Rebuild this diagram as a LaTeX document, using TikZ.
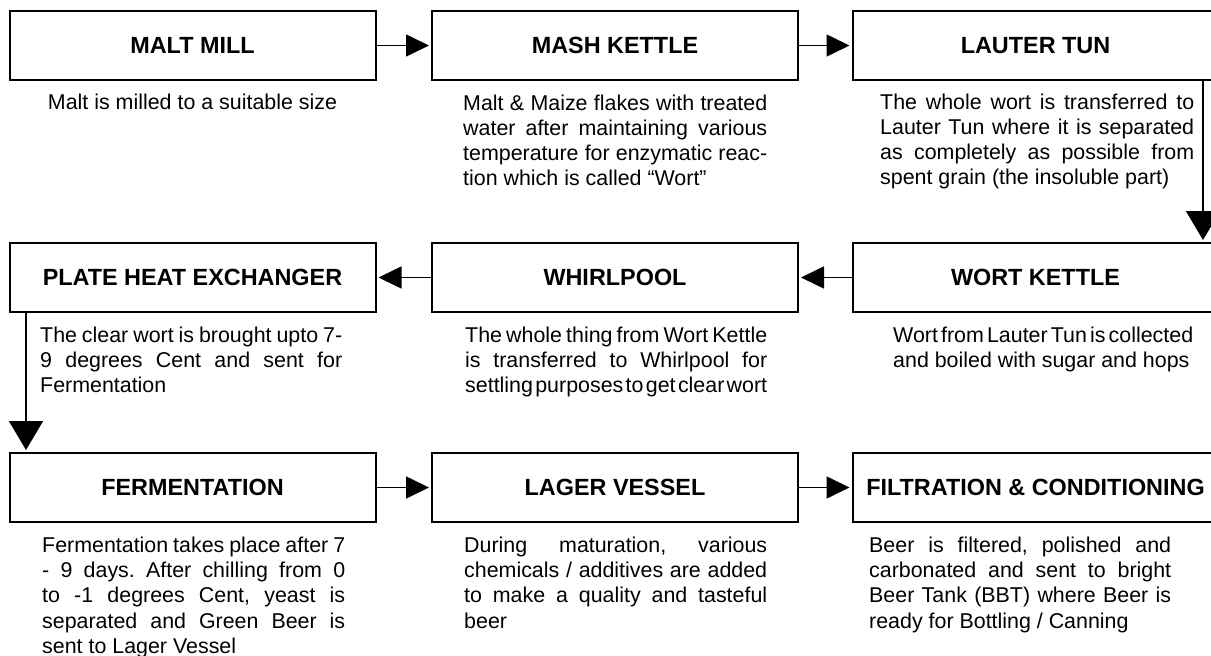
\documentclass[tikz,border=0pt]{standalone}
\usepackage{fontspec}
\setmainfont{Liberation Sans}[WordSpace={1,1.5,2}]
\usetikzlibrary{arrows.meta}
\frenchspacing
\newcommand\J[1]{\noindent\hbox to \hsize{#1}\par}
\newcommand\Ln[1]{\noindent\hbox{#1}\par}
\newcommand\Dblock[2]{\vtop{\hsize=#1\relax\parindent=0pt #2}}
\tikzset{
  stagebox/.style={draw, line width=2pt, minimum width=366pt, minimum height=69pt, inner sep=0pt,
    font=\fontsize{23.4}{28}\selectfont\bfseries},
  desc/.style={inner sep=0pt, anchor=base west, font=\fontsize{21.4}{25.2}\selectfont\frenchspacing},
  harr/.style={line width=1.6pt, -{Triangle[length=23pt,width=22pt]}, shorten >=2pt},
  varr/.style={line width=1.6pt, -{Triangle[length=29pt,width=34pt]}, shorten >=2pt}
}
\begin{document}
\begin{tikzpicture}[x=1pt,y=-1pt]
\clip (0,0) rectangle (1211,656);
\fill[white] (0,0) rectangle (1211,656);
% boxes
\node[stagebox] (MM) at (192.5,45.5) {MALT MILL};
\node[stagebox] (MK) at (615,45.5) {MASH KETTLE};
\node[stagebox] (LT) at (1035.5,45.5) {LAUTER TUN};
\node[stagebox] (PHE) at (192.5,277.5) {PLATE HEAT EXCHANGER};
\node[stagebox] (WP) at (615,277.5) {WHIRLPOOL};
\node[stagebox] (WK) at (1035.5,277.5) {WORT KETTLE};
\node[stagebox] (FM) at (192.5,487.5) {FERMENTATION};
\node[stagebox] (LV) at (615,487.5) {LAGER VESSEL};
\node[stagebox] (FC) at (1035.5,487.5) {FILTRATION \& CONDITIONING};
% descriptions
\node[desc, anchor=base] (dMM) at (192.5,109) {Malt is milled to a suitable size};
\node[desc] (dMK) at (463,110) {\Dblock{304pt}{%
\J{Malt \& Maize flakes with treated}%
\J{water after maintaining various}%
\J{temperature for enzymatic reac-}%
\Ln{tion which is called “Wort”}}};
\node[desc] (dLT) at (880,109) {\Dblock{314pt}{%
\J{The whole wort is transferred to}%
\J{Lauter Tun where it is separated}%
\J{as completely as possible from}%
\Ln{spent grain (the insoluble part)}}};
\node[desc] (dPHE) at (40,342) {\Dblock{302pt}{%
\J{The clear wort is brought upto 7-}%
\J{9 degrees Cent and sent for}%
\Ln{Fermentation}}};
\node[desc] (dWP) at (465,342) {\Dblock{302pt}{%
\J{The whole thing from Wort Kettle}%
\J{is transferred to Whirlpool for}%
\J{settling purposes to get clear wort}}};
\node[desc] (dWK) at (893,342) {\Dblock{300pt}{%
\J{Wort from Lauter Tun is collected}%
\Ln{and boiled with sugar and hops}}};
\node[desc] (dFM) at (42,552.5) {\Dblock{303pt}{%
\J{Fermentation takes place after 7}%
\J{- 9 days. After chilling from 0}%
\J{to -1 degrees Cent, yeast is}%
\J{separated and Green Beer is}%
\Ln{sent to Lager Vessel}}};
\node[desc] (dLV) at (464,552.5) {\Dblock{303pt}{%
\J{During maturation, various}%
\J{chemicals / additives are added}%
\J{to make a quality and tasteful}%
\Ln{beer}}};
\node[desc] (dFC) at (869,552.5) {\Dblock{302pt}{%
\J{Beer is filtered, polished and}%
\J{carbonated and sent to bright}%
\J{Beer Tank (BBT) where Beer is}%
\Ln{ready for Bottling / Canning}}};
% connectors
\coordinate (v1) at (1203,0);
\coordinate (v2) at (26,0);
\draw[harr] (MM.east) -- (MK.west);
\draw[harr] (MK.east) -- (LT.west);
\draw[varr] (LT.south -| v1) -- (WK.north -| v1);
\draw[harr] (WK.west) -- (WP.east);
\draw[harr] (WP.west) -- (PHE.east);
\draw[varr] (PHE.south -| v2) -- (FM.north -| v2);
\draw[harr] (FM.east) -- (LV.west);
\draw[harr] (LV.east) -- (FC.west);
\end{tikzpicture}
\end{document}
